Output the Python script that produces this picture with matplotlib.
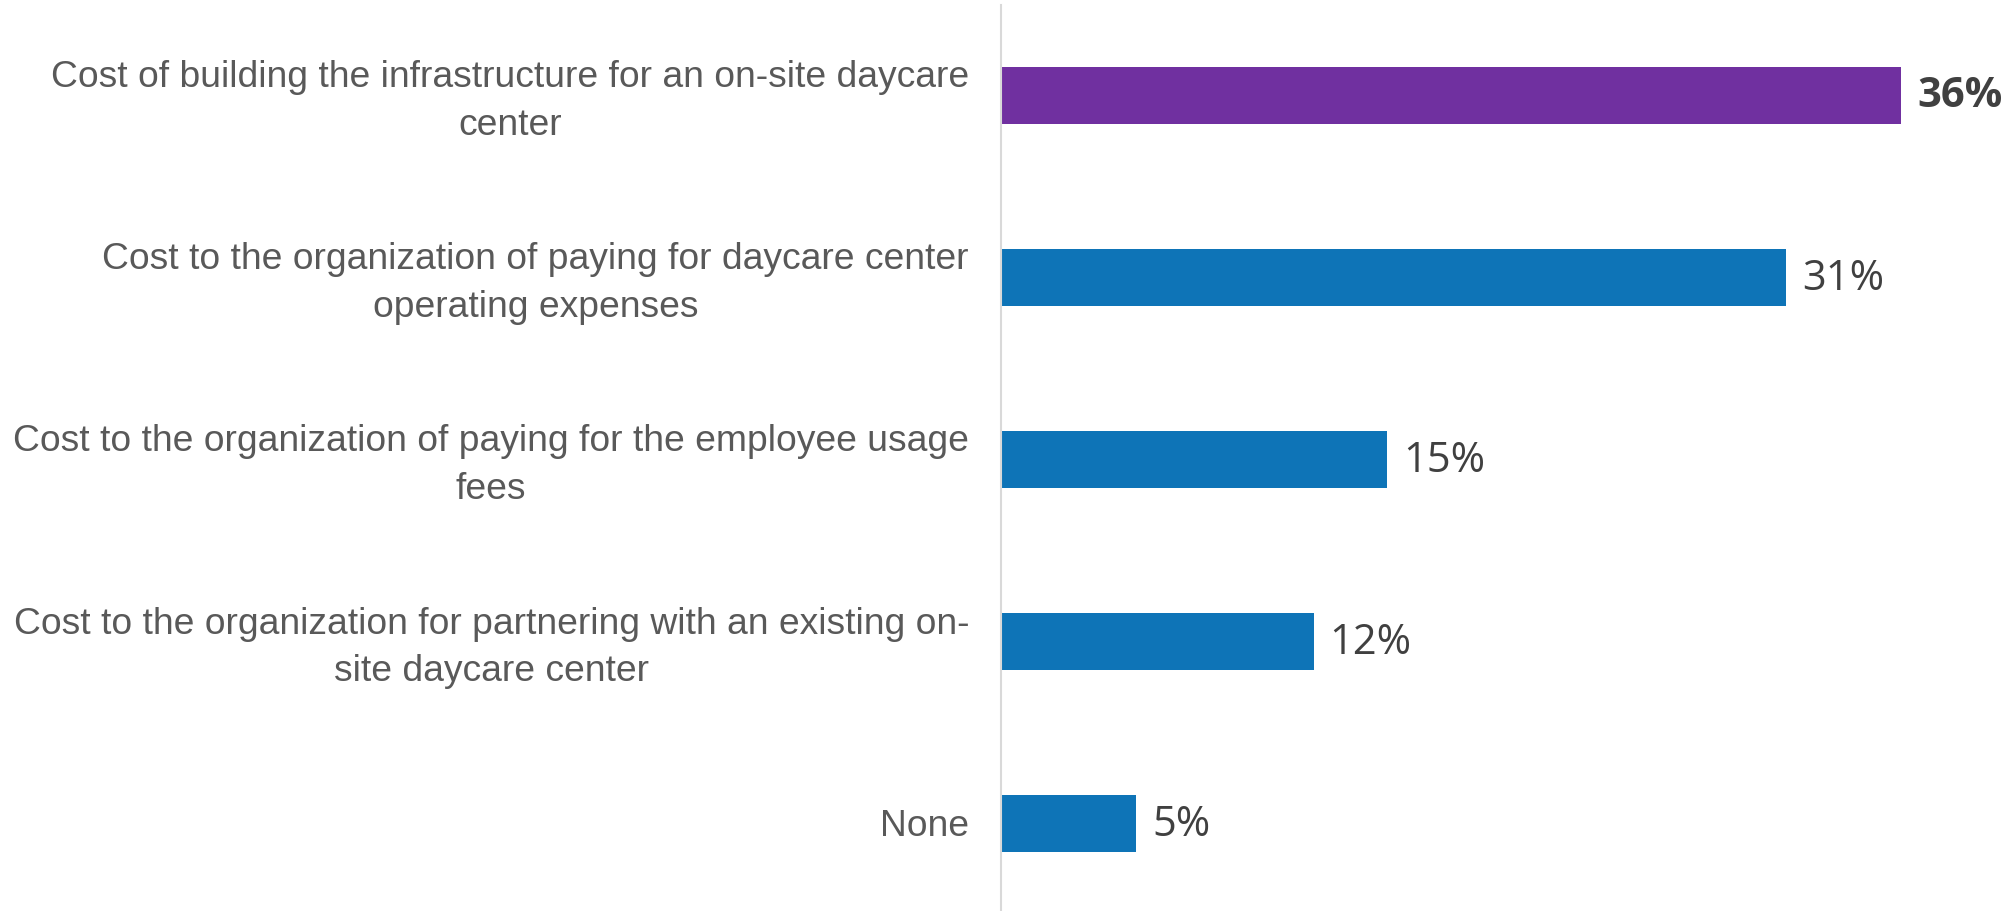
import matplotlib
matplotlib.use("Agg")
import matplotlib.pyplot as plt
import matplotlib.transforms as mtransforms

categories = [
    "Cost of building the infrastructure for an on-site daycare\ncenter",
    "Cost to the organization of paying for daycare center\noperating expenses",
    "Cost to the organization of paying for the employee usage\nfees",
    "Cost to the organization for partnering with an existing on-\nsite daycare center",
    "None",
]
values = [36.0, 31.4, 15.45, 12.5, 5.4]
value_labels = ["36%", "31%", "15%", "12%", "5%"]
highlight = [True, False, False, False, False]

W, H = 2012, 912
fig = plt.figure(figsize=(W / 100, H / 100), dpi=100)
ax_left = 1001 / W
ax = fig.add_axes([ax_left, 0, 1 - ax_left, (912 - 6) / H])

purple = "#7030A0"
blue = "#0E74B7"
colors = [purple if h else blue for h in highlight]
ypos = list(range(len(categories)))
ax.barh(ypos, values, height=0.313, color=colors, left=0)
ax.set_xlim(0, (W - 1001) / 25.0)
ax.set_ylim(4.48, -0.497)

for s in ["top", "right", "bottom"]:
    ax.spines[s].set_visible(False)
ax.spines["left"].set_color("#D9D9D9")
ax.spines["left"].set_linewidth(1.5)
ax.set_xticks([])
ax.set_yticks([])

for y, cat in zip(ypos, categories):
    dy = -5 if "\n" in cat else -2
    offset = mtransforms.offset_copy(ax.transData, fig=fig, x=-32, y=dy, units="dots")
    ax.text(0, y, cat, transform=offset, ha="right", va="center",
            multialignment="center", fontsize=26.8, color="#595959",
            family="Liberation Sans", linespacing=1.45)

for y, v, lab, h in zip(ypos, values, value_labels, highlight):
    off = mtransforms.offset_copy(ax.transData, fig=fig, x=16, y=0, units="dots")
    ax.text(v, y, lab, transform=off, ha="left", va="center",
            fontsize=30, color="#404040", family="Open Sans",
            fontweight="bold" if h else "normal")

fig.savefig("out.png", dpi=100)
